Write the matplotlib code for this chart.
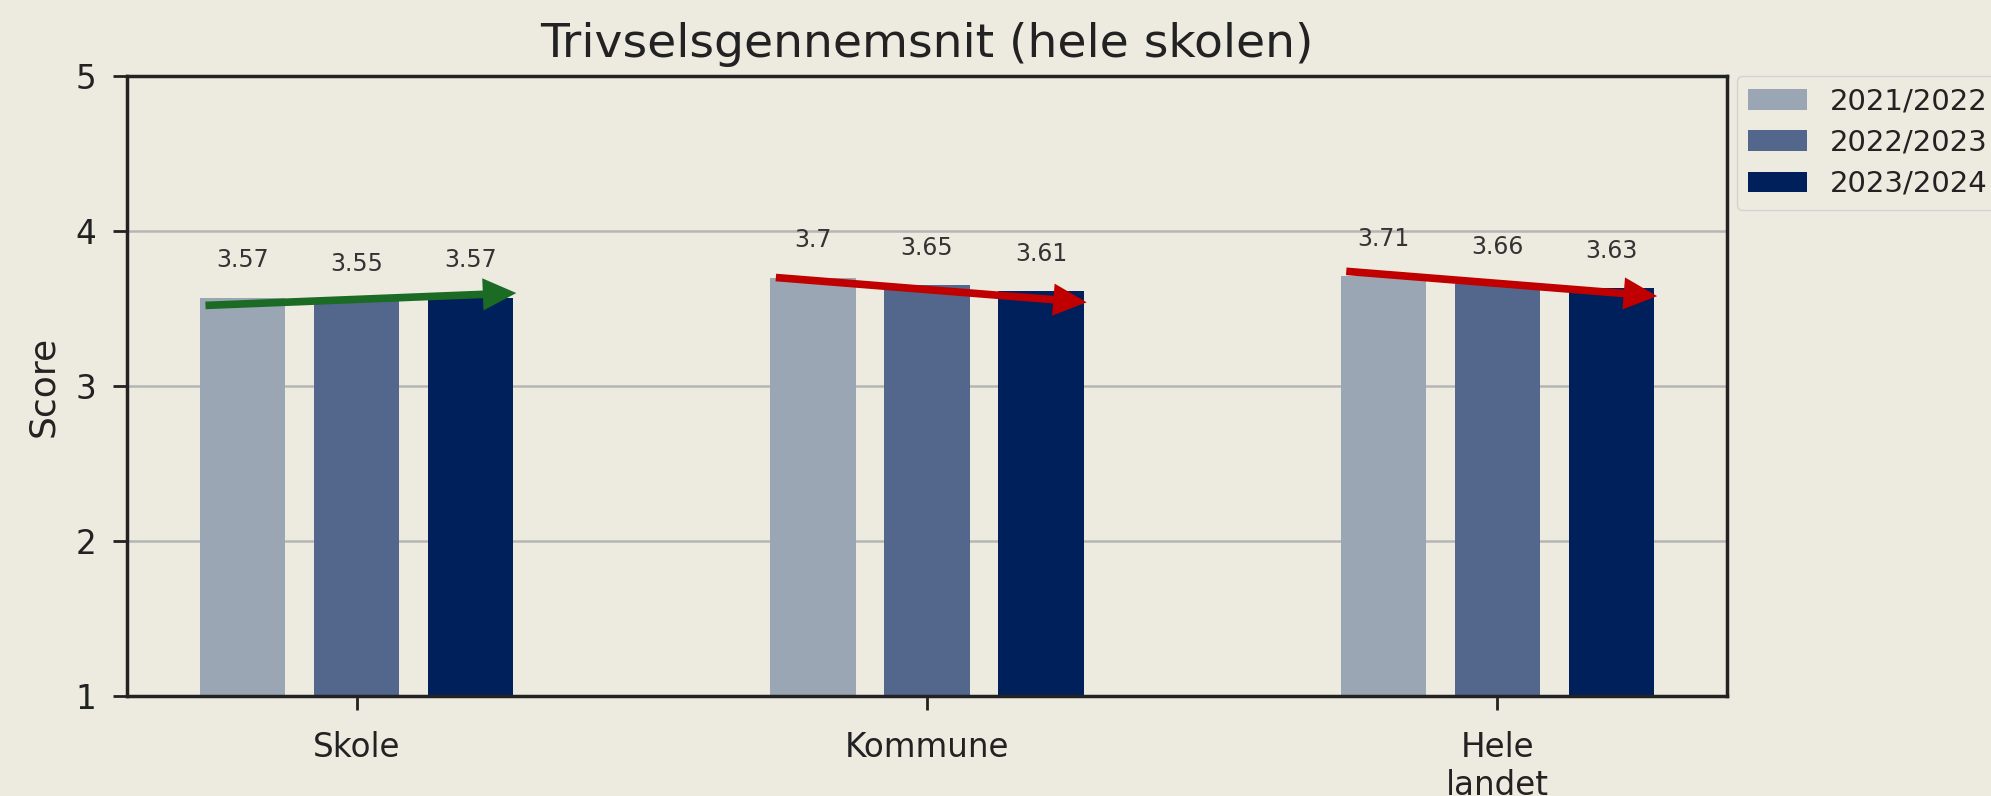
import matplotlib
matplotlib.use("Agg")
import matplotlib.pyplot as plt
import numpy as np

categories = ["Skole", "Kommune", "Hele\nlandet"]
series_names = ["2021/2022", "2022/2023", "2023/2024"]
values_2122 = [3.57, 3.70, 3.71]
values_2223 = [3.55, 3.65, 3.66]
values_2324 = [3.57, 3.61, 3.63]
series_values = [values_2122, values_2223, values_2324]
# trend arrows: start / end heights (score units), colour
arrow_start = [3.52, 3.70, 3.74]
arrow_end = [3.60, 3.54, 3.58]
arrow_colors = ["#1b6b25", "#c00000", "#c00000"]

bar_colors = ["#9ba6b5", "#53668c", "#00205c"]
bg = "#edebe0"

fig = plt.figure(figsize=(19.91, 7.96), dpi=100, facecolor=bg)
ax = fig.add_axes([0.0638, 0.1256, 0.8036, 0.7789], facecolor=bg)

x = np.arange(len(categories))
width = 0.15
step = 0.2
for i, (name, vals) in enumerate(zip(series_names, series_values)):
    pos = x + (i - 1) * step
    ax.bar(pos, [v - 1 for v in vals], width, bottom=1, color=bar_colors[i],
           label=name, zorder=2)
    for p, v in zip(pos, vals):
        ax.text(p, v + 0.24, f"{v:g}", ha="center", va="center",
                fontsize=17, color="#333333", zorder=4)

for j in range(len(categories)):
    x0 = x[j] - step - width / 2 + 0.01
    x1 = x[j] + step + width / 2 + 0.005
    ax.annotate("", xy=(x1, arrow_end[j]), xytext=(x0, arrow_start[j]),
                arrowprops=dict(arrowstyle="-|>,head_length=0.5,head_width=0.24",
                                mutation_scale=30, lw=5.5, color=arrow_colors[j],
                                shrinkA=0, shrinkB=0, joinstyle="miter",
                                capstyle="butt"), zorder=5)

ax.set_ylim(1, 5)
ax.set_yticks([1, 2, 3, 4, 5])
ax.set_xticks(x)
ax.set_xticklabels(categories)
ax.tick_params(axis="both", labelsize=23.5, colors="#222222", length=10, width=2,
               labelcolor="#222222")
ax.tick_params(axis="y", pad=12)
ax.tick_params(axis="x", pad=15)
ax.grid(axis="y", color="#b5b5b5", lw=1.8, zorder=0)
ax.set_axisbelow(True)
for s in ax.spines.values():
    s.set_linewidth(2.5)
    s.set_color("#222222")
ax.set_ylabel("Score", fontsize=26, color="#222222", labelpad=11)
ax.set_title("Trivselsgennemsnit (hele skolen)", fontsize=34, color="#222222", pad=14)

leg = ax.legend(loc="upper left", bbox_to_anchor=(1.006, 1.0), fontsize=21,
                frameon=True, facecolor=bg, edgecolor="#cccccc",
                handlelength=2.0, handleheight=0.7, labelspacing=0.45,
                borderaxespad=0)
for t in leg.get_texts():
    t.set_color("#222222")

fig.savefig("out.png", dpi=100, facecolor=bg)
